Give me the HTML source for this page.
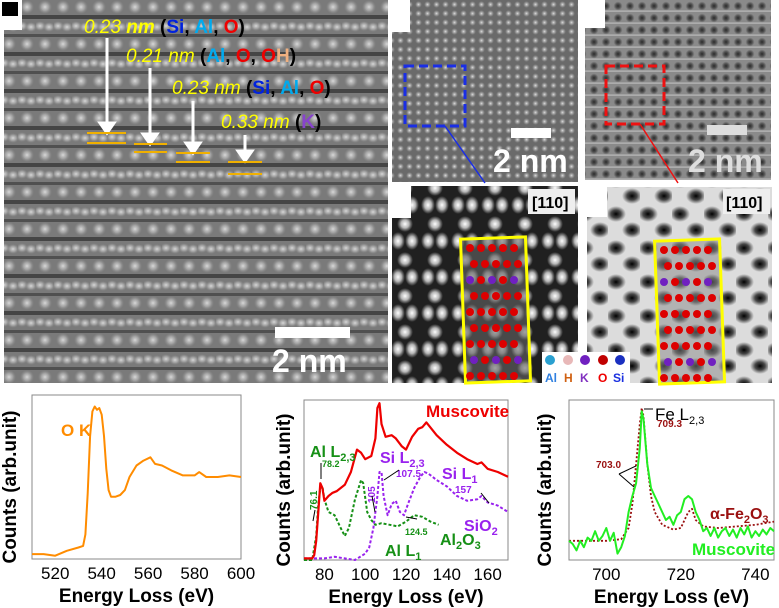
<!DOCTYPE html>
<html><head><meta charset="utf-8">
<style>
body{margin:0;background:#fff;width:779px;height:608px;overflow:hidden;font-family:"Liberation Sans",sans-serif}
svg{position:absolute;left:0;top:0}
</style></head>
<body>
<svg id="fig" width="779" height="608" viewBox="0 0 779 608" xmlns="http://www.w3.org/2000/svg">
<defs>
<radialGradient id="blob"><stop offset="0" stop-color="#d8d8d8"/><stop offset="0.5" stop-color="#b0b0b0" stop-opacity="0.8"/><stop offset="1" stop-color="#909090" stop-opacity="0"/></radialGradient>
<radialGradient id="blobW"><stop offset="0" stop-color="#fff"/><stop offset="0.5" stop-color="#ddd" stop-opacity="0.8"/><stop offset="1" stop-color="#bbb" stop-opacity="0"/></radialGradient>
<radialGradient id="blobG"><stop offset="0" stop-color="#e0e0e0"/><stop offset="1" stop-color="#aaa" stop-opacity="0"/></radialGradient>
<radialGradient id="hole"><stop offset="0" stop-color="#000"/><stop offset="0.5" stop-color="#222" stop-opacity="0.8"/><stop offset="1" stop-color="#333" stop-opacity="0"/></radialGradient>
<pattern id="lat1" width="18" height="37" patternUnits="userSpaceOnUse">
<rect width="18" height="37" fill="#7a7a7a"/>
<rect y="15" width="18" height="4" fill="#454545"/>
<rect y="34" width="18" height="3" fill="#505050"/>
<ellipse cx="9" cy="7" rx="7" ry="7" fill="url(#blob)"/>
<ellipse cx="4" cy="26" rx="6" ry="5" fill="url(#blob)"/>
<ellipse cx="13" cy="27" rx="6" ry="5" fill="url(#blob)"/>
</pattern>
<pattern id="lat2" width="9" height="9" patternUnits="userSpaceOnUse">
<rect width="9" height="9" fill="#6a6a6a"/>
<circle cx="4.5" cy="4.5" r="3.5" fill="url(#blobG)"/>
</pattern>
<pattern id="lat3" width="12" height="12" patternUnits="userSpaceOnUse">
<rect width="12" height="12" fill="#8a8a8a"/>
<circle cx="6" cy="6" r="4.5" fill="url(#hole)" opacity="0.7"/>
<rect y="10.5" width="12" height="1.2" fill="#bbb"/>
</pattern>
<pattern id="lat4" width="30" height="36" patternUnits="userSpaceOnUse">
<rect width="30" height="36" fill="#202020"/>
<ellipse cx="15" cy="8" rx="8" ry="8" fill="url(#blobW)"/>
<ellipse cx="8" cy="25" rx="7" ry="9" fill="url(#blobW)"/>
<ellipse cx="22" cy="25" rx="7" ry="9" fill="url(#blobW)"/>
</pattern>
<pattern id="lat5" width="32" height="34" patternUnits="userSpaceOnUse">
<rect width="32" height="34" fill="#dcdcdc"/>
<ellipse cx="8" cy="10" rx="10" ry="8" fill="url(#hole)"/>
<ellipse cx="24" cy="26" rx="10" ry="8" fill="url(#hole)"/>
</pattern>
</defs>

<!-- panel a -->
<g>
<rect x="4" y="0" width="384" height="383" fill="url(#lat1)"/>
<rect x="0" y="0" width="22" height="30" fill="#fff"/>
<rect x="2" y="2" width="16" height="14" fill="#000"/>
</g>
<g font-style="italic" font-size="19">
<text x="84" y="33" fill="#ff0"><tspan>0.23 </tspan><tspan font-weight="bold">nm</tspan><tspan font-style="normal" font-weight="bold" fill="#000"> (<tspan fill="#0022dd">Si</tspan>, <tspan fill="#00aaee">Al</tspan>, <tspan fill="#ee0000">O</tspan>)</tspan></text>
<text x="126" y="62" fill="#ff0">0.21 nm <tspan font-style="normal" font-weight="bold" fill="#000"> (<tspan fill="#00aaee">Al</tspan>, <tspan fill="#ee0000">O</tspan>, <tspan fill="#ee0000">O</tspan><tspan fill="#f0b080">H</tspan>)</tspan></text>
<text x="172" y="94" fill="#ff0">0.23 nm <tspan font-style="normal" font-weight="bold" fill="#000">(<tspan fill="#0022dd">Si</tspan>, <tspan fill="#00aaee">Al</tspan>, <tspan fill="#ee0000">O</tspan>)</tspan></text>
<text x="221" y="128" fill="#ff0">0.33 nm <tspan font-style="normal" font-weight="bold" fill="#000">(<tspan fill="#8844cc">K</tspan>)</tspan></text>
</g>
<g stroke="#fff" stroke-width="3" fill="#fff">
<line x1="107" y1="38" x2="107" y2="125"/><path d="M100,123 L114,123 L107,133Z"/>
<line x1="150" y1="68" x2="150" y2="136"/><path d="M143,134 L157,134 L150,144Z"/>
<line x1="193" y1="101" x2="193" y2="145"/><path d="M186,143 L200,143 L193,153Z"/>
<line x1="245" y1="135" x2="245" y2="153"/><path d="M238,151 L252,151 L245,161Z"/>
</g>
<g stroke="#f0b000" stroke-width="2">
<line x1="87" y1="133" x2="126" y2="133"/><line x1="87" y1="143" x2="126" y2="143"/>
<line x1="134" y1="144" x2="167" y2="144"/><line x1="134" y1="152" x2="167" y2="152"/>
<line x1="176" y1="153" x2="210" y2="153"/><line x1="176" y1="162" x2="210" y2="162"/>
<line x1="228" y1="162" x2="262" y2="162"/><line x1="228" y1="174" x2="262" y2="174"/>
</g>
<rect x="275" y="327" width="75" height="11" fill="#fff"/>
<text x="272" y="372" font-size="32" font-weight="bold" fill="#fff">2 nm</text>

<!-- panel b top -->
<g>
<rect x="392" y="0" width="186" height="182" fill="url(#lat2)"/>
<rect x="392" y="0" width="18" height="32" fill="#fff"/>
<rect x="405" y="66" width="60" height="60" fill="none" stroke="#1a2ee6" stroke-width="3" stroke-dasharray="9,5"/>
<line x1="445" y1="126" x2="485" y2="183" stroke="#1a2ee6" stroke-width="1.5"/>
<rect x="511" y="128" width="40" height="10" fill="#fff"/>
<text x="493" y="172" font-size="32" font-weight="bold" fill="#fff">2 nm</text>
</g>
<g>
<rect x="585" y="0" width="186" height="180" fill="url(#lat3)"/>
<rect x="585" y="0" width="20" height="28" fill="#fff"/>
<rect x="606" y="66" width="58" height="58" fill="none" stroke="#ee1111" stroke-width="3" stroke-dasharray="9,5"/>
<line x1="640" y1="124" x2="678" y2="183" stroke="#ee1111" stroke-width="1.5"/>
<rect x="707" y="125" width="40" height="10" fill="#ddd"/>
<text x="688" y="172" font-size="32" font-weight="bold" fill="#ddd">2 nm</text>
</g>
<!-- bottom zoomed panels -->
<g>
<rect x="392" y="186" width="186" height="197" fill="url(#lat4)"/>
<rect x="392" y="186" width="19" height="32" fill="#fff"/>
<rect x="528" y="189" width="47" height="25" fill="#eee"/>
<text x="532" y="208" font-size="16" font-weight="bold" fill="#000">[110]</text>
<rect x="463" y="238" width="65" height="144" fill="#666" fill-opacity="0.6" stroke="#ff0" stroke-width="3" transform="rotate(-2 495 310)"/>
</g>
<g>
<rect x="587" y="187" width="185" height="196" fill="url(#lat5)"/>
<rect x="587" y="187" width="20" height="30" fill="#fff"/>
<rect x="723" y="189" width="47" height="25" fill="#eee"/>
<text x="726" y="208" font-size="16" font-weight="bold" fill="#000">[110]</text>
<rect x="657" y="240" width="65" height="143" fill="#888" fill-opacity="0.5" stroke="#ff0" stroke-width="3" transform="rotate(-2 690 310)"/>
</g>
<g id="atoms"></g>
<g>
<rect x="542" y="352" width="88" height="32" fill="#fff"/>
<circle cx="550" cy="360" r="5" fill="#2aa0d0"/><circle cx="568" cy="360" r="5" fill="#e8b8b8"/><circle cx="585" cy="360" r="5" fill="#7020c0"/><circle cx="603" cy="360" r="5" fill="#c00000"/><circle cx="620" cy="360" r="5" fill="#1a30c0"/>
<text y="382" font-size="12" font-weight="bold"><tspan x="545" fill="#3080e0">Al</tspan><tspan x="564" fill="#d06010">H</tspan><tspan x="580" fill="#8030c0">K</tspan><tspan x="598" fill="#ee0000">O</tspan><tspan x="613" fill="#1a30e0">Si</tspan></text>
</g>
<g id="plots"></g>
</svg>
<script>
// ---------- atom decoration ----------
(function(){
  const g=document.getElementById('atoms');
  const ns='http://www.w3.org/2000/svg';
  [[470,240],[664,242]].forEach(([x0,y0])=>{
    for(let r=0;r<9;r++)for(let c=0;c<5;c++){
      const k=document.createElementNS(ns,'circle');
      k.setAttribute('cx',x0+c*11+(r%2)*4);k.setAttribute('cy',y0+8+r*16);k.setAttribute('r',4);
      k.setAttribute('fill',(r==2||r==7)&&c%2==0?'#7020c0':'#dd0000');
      
      
      g.appendChild(k);
    }
  });
})();

// ---------- spectra data ----------
const okE=[510,515,520,525,530,532,533,534,535,536,537,538,539,540,541,542,543,544,546,548,550,552,555,558,561,563,566,570,575,580,582,585,590,595,600];
const okI=[0.03,0.03,0.02,0.05,0.07,0.08,0.15,0.4,0.75,0.9,0.93,0.91,0.92,0.88,0.75,0.55,0.42,0.38,0.38,0.39,0.42,0.5,0.57,0.6,0.62,0.58,0.57,0.54,0.51,0.51,0.53,0.5,0.5,0.51,0.5];

const musE=[70,74,75,76,77,78,79,80,82,84,86,90,93,96,98,100,103,105,106,107,108,110,113,115,118,120,123,126,128,130,135,140,145,150,155,157,160,165,170];
const musI=[0.01,0.01,0.03,0.12,0.3,0.48,0.45,0.37,0.4,0.42,0.43,0.47,0.55,0.69,0.67,0.63,0.65,0.76,0.95,0.98,0.85,0.77,0.78,0.76,0.71,0.69,0.77,0.82,0.83,0.86,0.78,0.72,0.67,0.63,0.6,0.61,0.57,0.55,0.52];
const alE=[70,74,76,77,78,79,80,82,85,88,90,92,95,98,99,101,103,105,108,112,116,120,124,128,132,136];
const alI=[0,0,0.15,0.35,0.45,0.46,0.38,0.3,0.28,0.2,0.15,0.2,0.38,0.5,0.48,0.3,0.25,0.22,0.23,0.22,0.21,0.24,0.28,0.27,0.24,0.22];
const siE=[70,80,85,90,95,100,102,104,105,106,107,108,109,111,113,115,117,119,121,124,127,129,131,135,140,145,150,155,157,160,165,170];
const siI=[0.01,0.01,0.02,0.01,0,0.04,0.08,0.2,0.3,0.4,0.55,0.55,0.4,0.28,0.35,0.37,0.3,0.28,0.35,0.45,0.52,0.55,0.54,0.5,0.46,0.4,0.37,0.38,0.4,0.36,0.34,0.3];

const feE=[690,700,704,706,707,708,709,709.5,710,711,712,713,715,718,720,722,723,724,726,730,735,740,745];
const feI=[0.12,0.12,0.13,0.2,0.35,0.6,0.85,0.95,0.9,0.6,0.4,0.3,0.22,0.19,0.2,0.3,0.32,0.25,0.21,0.2,0.21,0.22,0.24];
const muFeE=[690,691,692,693,694,695,696,697,698,699,700,701,702,703,704,705,706,707,708,709,709.5,710,711,712,713,714,715,716,717,718,719,720,721,722,723,724,725,726,727,728,729,730,731,732,733,734,735,736,737,738,739,740,741,742,743,744,745];
const muFeI=[0.12,0.1,0.06,0.12,0.08,0.14,0.12,0.18,0.12,0.15,0.2,0.12,0.17,0.04,0.08,0.15,0.3,0.4,0.48,0.7,0.93,0.88,0.6,0.45,0.4,0.35,0.3,0.25,0.27,0.22,0.28,0.3,0.38,0.4,0.38,0.3,0.25,0.18,0.2,0.15,0.2,0.14,0.18,0.2,0.15,0.19,0.14,0.2,0.16,0.21,0.14,0.18,0.15,0.19,0.16,0.2,0.18];

const xt1=[520,540,560,580,600], xt2=[80,100,120,140,160], xt3=[700,720,740];

const NS='http://www.w3.org/2000/svg';
const P=document.getElementById('plots');
function el(tag,attrs,parent,text){const e=document.createElementNS(NS,tag);for(const k in attrs)e.setAttribute(k,attrs[k]);if(text!==undefined)e.textContent=text;(parent||P).appendChild(e);return e;}

function makePlot(name,L,R,T,B,x0,x1,ticks,ylabX){
  const g=el('g',{});
  
  
  const sx=v=>L+(v-x0)/(x1-x0)*(R-L);
  const sy=v=>B-v*(B-T);
  const fr=el('rect',{x:L,y:T,width:R-L,height:B-T,fill:'none',stroke:'#888','stroke-width':1},g);
  
  
  ticks.forEach(t=>{
    const tx=el('text',{x:sx(t),y:B+20,'font-size':17,'text-anchor':'middle',fill:'#000'},g,String(t));
    
    
  });
  const xl=el('text',{x:(L+R)/2,y:B+43,'font-size':19,'font-weight':'bold','text-anchor':'middle'},g,'Energy Loss (eV)');
  
  
  const yl=el('text',{x:0,y:0,'font-size':19,'font-weight':'bold','text-anchor':'middle',transform:`translate(${ylabX},${(T+B)/2+10}) rotate(-90)`},g,'Counts (arb.unit)');
  
  
  return {g,sx,sy};
}
function line(pl,E,I,color,dash,w,name){
  const pts=E.map((e,i)=>pl.sx(e).toFixed(1)+','+pl.sy(I[i]).toFixed(1)).join(' ');
  const p=el('polyline',{points:pts,fill:'none',stroke:color,'stroke-width':w,'stroke-dasharray':dash||'none','stroke-linejoin':'round'},pl.g);
  
  
}
function txt(pl,x,y,s,color,size,name,extra){
  const t=el('text',Object.assign({x:x,y:y,'font-size':size,'font-weight':'bold',fill:color},extra||{}),pl.g);
  t.innerHTML=s;
  
  
}

// plot 1
const p1=makePlot('o-k-edge-plot',32,241,395,559,510,600,xt1,16);
line(p1,okE,okI,'#ff8c00',null,2,'o-k-spectrum');
txt(p1,61,436,'O K','#ff8c00',17,'o-k-label');

// plot 2
const p2=makePlot('al-si-edge-plot',304,508,400,560,70,170,xt2,290);
line(p2,alE,alI,'#169016','3,2',2,'al2o3-spectrum');
line(p2,siE,siI,'#9922ee','3,2',2,'sio2-spectrum');
line(p2,musE,musI,'#ee0000',null,2.2,'muscovite-spectrum');
txt(p2,426,417,'Muscovite','#ee0000',17,'muscovite-label');
txt(p2,310,457,'Al L<tspan font-size="11" dy="4">2,3</tspan>','#169016',16,'al-l23-label');
txt(p2,322,467,'78.2','#169016',9,'al-782-label');
txt(p2,380,463,'Si L<tspan font-size="11" dy="4">2,3</tspan>','#9922ee',16,'si-l23-label');
txt(p2,396,477,'107.5','#9922ee',10,'si-1075-label');
txt(p2,442,479,'Si L<tspan font-size="11" dy="4">1</tspan>','#9922ee',16,'si-l1-label');
txt(p2,455,493,'157','#9922ee',10,'si-157-label');
txt(p2,464,531,'SiO<tspan font-size="11" dy="4">2</tspan>','#9922ee',16,'sio2-label');
txt(p2,440,545,'Al<tspan font-size="11" dy="4">2</tspan><tspan dy="-4">O</tspan><tspan font-size="11" dy="4">3</tspan>','#169016',16,'al2o3-label');
txt(p2,385,556,'Al L<tspan font-size="11" dy="4">1</tspan>','#169016',16,'al-l1-label');
txt(p2,405,535,'124.5','#169016',9,'al-1245-label');
txt(p2,0,0,'76.1','#169016',10,'al-761-label',{transform:'translate(317,510) rotate(-90)'});
txt(p2,0,0,'105','#9922ee',10,'si-105-label',{transform:'translate(375,503) rotate(-90)'});
[[321,463,321,479],[315,510,313,521],[372,496,375,512],[399,470,384,480],[481,493,489,503],[406,517,417,519]].forEach(a=>{
  const l=el('line',{x1:a[0],y1:a[1],x2:a[2],y2:a[3],stroke:'#000','stroke-width':1},p2.g);
  
  
});

// plot 3
const p3=makePlot('fe-l-edge-plot',569,774,400,560,690,745,xt3,551);
line(p3,feE,feI,'#9a1010','2,2',1.8,'fe2o3-spectrum');
line(p3,muFeE,muFeI,'#22ee22',null,2,'muscovite-fe-spectrum');
txt(p3,655,420,'Fe L<tspan font-size="11" dy="4">2,3</tspan>','#000',17,'fe-l23-label',{'font-weight':'normal'});
txt(p3,657,427,'709.3','#9a1010',10,'fe-7093-label');
txt(p3,596,468,'703.0','#9a1010',10,'fe-703-label');
txt(p3,710,519,'α-Fe<tspan font-size="11" dy="4">2</tspan><tspan dy="-4">O</tspan><tspan font-size="11" dy="4">3</tspan>','#9a1010',16,'fe2o3-label');
txt(p3,692,555,'Muscovite','#22ee22',17,'muscovite-fe-label');
[[619,474,636,466],[619,474,634,487],[653,409,644,409]].forEach(a=>{
  const l=el('line',{x1:a[0],y1:a[1],x2:a[2],y2:a[3],stroke:'#000','stroke-width':1},p3.g);
  
  
});
</script>
</body></html>
